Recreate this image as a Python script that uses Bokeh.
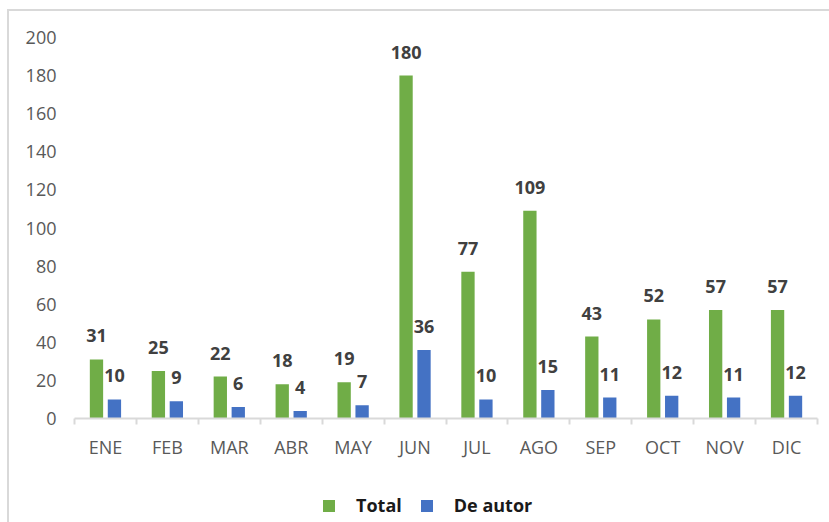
from bokeh.plotting import figure
from bokeh.layouts import column
from bokeh.models import ColumnDataSource, FixedTicker, Range1d, LabelSet, Legend, LegendItem
from bokeh.core.properties import value
from bokeh.embed import file_html
from bokeh.resources import INLINE

months = ["ENE", "FEB", "MAR", "ABR", "MAY", "JUN", "JUL", "AGO", "SEP", "OCT", "NOV", "DIC"]
total = [31, 25, 22, 18, 19, 180, 77, 109, 43, 52, 57, 57]
de_autor = [10, 9, 6, 4, 7, 36, 10, 15, 11, 12, 11, 12]
y_ticks = list(range(0, 201, 20))
series_names = ["Total", "De autor"]

FONT = "Open Sans"
GREEN = "#70AD47"
BLUE = "#4472C4"
AXIS_GRAY = "#d9d9d9"

idx = list(range(1, len(months) + 1))
off = 0.145
src = ColumnDataSource(dict(
    xt=[i - off for i in idx],
    xa=[i + off for i in idx],
    total=total,
    autor=de_autor,
    lt=[str(v) for v in total],
    la=[str(v) for v in de_autor],
))

p = figure(width=820, height=457, x_range=Range1d(0.5, len(months) + 0.5), y_range=Range1d(0, 200),
           output_backend="svg", toolbar_location=None,
           min_border_left=65, min_border_right=12, min_border_top=26, min_border_bottom=50)
p.xgrid.visible = False
p.ygrid.visible = False
p.outline_line_color = None

p.vbar(x="xt", top="total", width=0.215, bottom=0, source=src, fill_color=GREEN, line_color=None)
p.vbar(x="xa", top="autor", width=0.215, bottom=0, source=src, fill_color=BLUE, line_color=None)

# x axis
xa = p.xaxis[0]
xa.ticker = FixedTicker(ticks=idx, minor_ticks=[i + 0.5 for i in range(0, len(months) + 1)])
xa.major_label_overrides = {i: m for i, m in zip(idx, months)}
xa.axis_line_color = AXIS_GRAY
xa.axis_line_width = 2
xa.major_tick_line_color = None
xa.major_tick_out = 0
xa.major_tick_in = 0
xa.minor_tick_out = 6
xa.minor_tick_in = 0
xa.minor_tick_line_color = AXIS_GRAY
xa.minor_tick_line_width = 2
xa.major_label_text_font = FONT
xa.major_label_text_font_size = "18px"
xa.major_label_text_color = "#595959"
xa.major_label_standoff = 10

# y axis
ya = p.yaxis[0]
ya.ticker = FixedTicker(ticks=y_ticks, minor_ticks=[])
ya.axis_line_color = None
ya.major_tick_line_color = None
ya.major_tick_out = 0
ya.major_tick_in = 0
ya.minor_tick_line_color = None
ya.major_label_text_font = FONT
ya.major_label_text_font_size = "18px"
ya.major_label_text_color = "#595959"
ya.major_label_standoff = 18

for xcol, ycol, tcol in (("xt", "total", "lt"), ("xa", "autor", "la")):
    p.add_layout(LabelSet(x=xcol, y=ycol, text=tcol, source=src, y_offset=17,
                          text_align="center", text_baseline="alphabetic",
                          text_font=value(FONT), text_font_style="bold", text_font_size="18px",
                          text_color="#404040"))

# legend strip below the chart (its bars lie outside its visible range)
pl = figure(width=820, height=54, output_backend="svg", toolbar_location=None,
            x_range=Range1d(0.5, len(months) + 0.5), y_range=Range1d(1000, 1001),
            x_axis_location=None, y_axis_location=None,
            min_border_left=0, min_border_right=0, min_border_top=0, min_border_bottom=0)
pl.grid.visible = False
pl.outline_line_color = None
g1 = pl.vbar(x="xt", top="total", width=0.215, source=src, fill_color=GREEN, line_color=None)
g2 = pl.vbar(x="xa", top="autor", width=0.215, source=src, fill_color=BLUE, line_color=None)
legend = Legend(items=[LegendItem(label=series_names[0], renderers=[g1]),
                       LegendItem(label=series_names[1], renderers=[g2])],
                orientation="horizontal", location=(247, 5),
                glyph_width=15, glyph_height=15, label_standoff=20, spacing=17,
                padding=0, margin=0, border_line_color=None, background_fill_alpha=0,
                label_text_font=FONT, label_text_font_style="bold", label_text_font_size="18px",
                label_text_color="#1a1a1a")
pl.add_layout(legend, "center")

layout = column(p, pl, spacing=0)
layout.margin = (9, 0, 0, 7)
layout.styles = {"border-top": "2px solid #d9d9d9", "border-left": "2px solid #d9d9d9"}

open("out.html", "w").write(file_html(layout, INLINE))
